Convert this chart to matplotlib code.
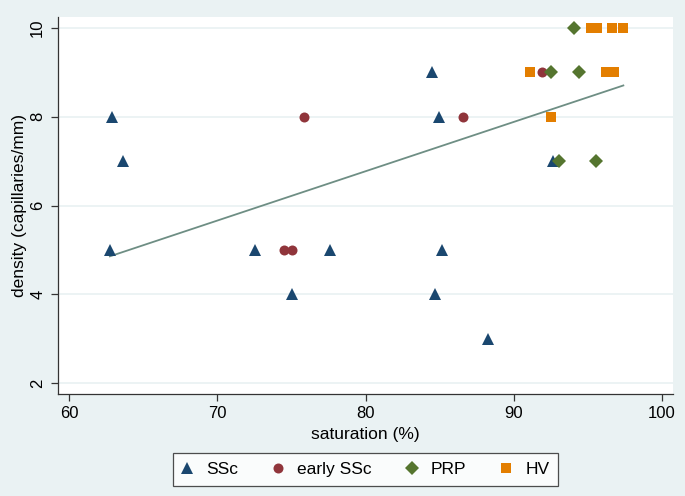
import numpy as np
import matplotlib
matplotlib.use('Agg')
import matplotlib.pyplot as plt

plt.rcParams['font.family'] = ['Liberation Sans', 'DejaVu Sans']

# saturation (%) / density (capillaries/mm) per group
ssc_x = [62.87, 63.65, 62.74, 72.54, 77.59, 85.17, 75.0, 84.7, 84.94, 84.48, 92.66, 88.25]
ssc_y = [8, 7, 5, 5, 5, 5, 4, 4, 8, 9, 7, 3]
early_x = [74.49, 75.03, 75.86, 86.6, 91.93]
early_y = [5, 5, 8, 8, 9]
prp_x = [94.08, 92.48, 94.43, 93.08, 95.52]
prp_y = [10, 9, 9, 7, 7]
hv_x = [95.22, 95.63, 96.64, 97.39, 91.09, 96.23, 96.73, 92.48]
hv_y = [10, 10, 10, 10, 9, 9, 9, 8]

bg = '#eaf2f3'

def main():
    fig = plt.figure(figsize=(6.85, 4.96), dpi=100, facecolor=bg)
    ax = fig.add_axes([57.7 / 685, 1 - 394 / 496, 615 / 685, 377.3 / 496])
    ax.set_facecolor('white')

    ax.plot(ssc_x, ssc_y, '^', color='#1a476f', ms=8.5, mew=0, label='SSc', zorder=3)
    ax.plot(early_x, early_y, 'o', color='#90353b', ms=7.2, mew=0, label='early SSc', zorder=3)
    ax.plot(prp_x, prp_y, 'D', color='#55752f', ms=6.8, mew=0, label='PRP', zorder=3)
    ax.plot(hv_x, hv_y, 's', color='#e37e00', ms=6.8, mew=0, label='HV', zorder=3)

    # linear fit over all points
    all_x = np.array(ssc_x + early_x + prp_x + hv_x)
    all_y = np.array(ssc_y + early_y + prp_y + hv_y)
    b, a = np.polyfit(all_x, all_y, 1)
    fx = np.array([all_x.min(), all_x.max()])
    ax.plot(fx, a + b * fx, color='#6e8e84', lw=1.3, zorder=2)

    ax.set_xlim(59.22, 100.72)
    ax.set_ylim(1.76, 10.25)
    ax.set_xticks([60, 70, 80, 90, 100])
    ax.set_yticks([2, 4, 6, 8, 10])
    ax.grid(axis='y', color=bg, lw=1.3)
    ax.set_axisbelow(True)
    for s in ['top', 'right']:
        ax.spines[s].set_visible(False)
    for s in ['left', 'bottom']:
        ax.spines[s].set_color('#333333')
        ax.spines[s].set_linewidth(0.9)
    ax.tick_params(labelsize=12, length=5, width=0.9, color='#333333', pad=4)
    for lbl in ax.get_yticklabels():
        lbl.set_rotation(90)
        lbl.set_va('center')
    ax.set_xlabel('saturation (%)', fontsize=12.5, labelpad=4)
    ax.set_ylabel('density (capillaries/mm)', fontsize=12.5, labelpad=2)

    leg = fig.legend(loc='center', bbox_to_anchor=(365.5 / 685, 1 - 469.5 / 496), ncol=4,
                     frameon=True, fancybox=False, fontsize=12.5, handletextpad=0.8,
                     columnspacing=2.0, borderpad=0.5, handlelength=0.6)
    leg.get_frame().set_edgecolor('#222222')
    leg.get_frame().set_linewidth(0.9)

    fig.savefig('out.png', dpi=100, facecolor=bg)

if __name__ == "__main__":
    main()
